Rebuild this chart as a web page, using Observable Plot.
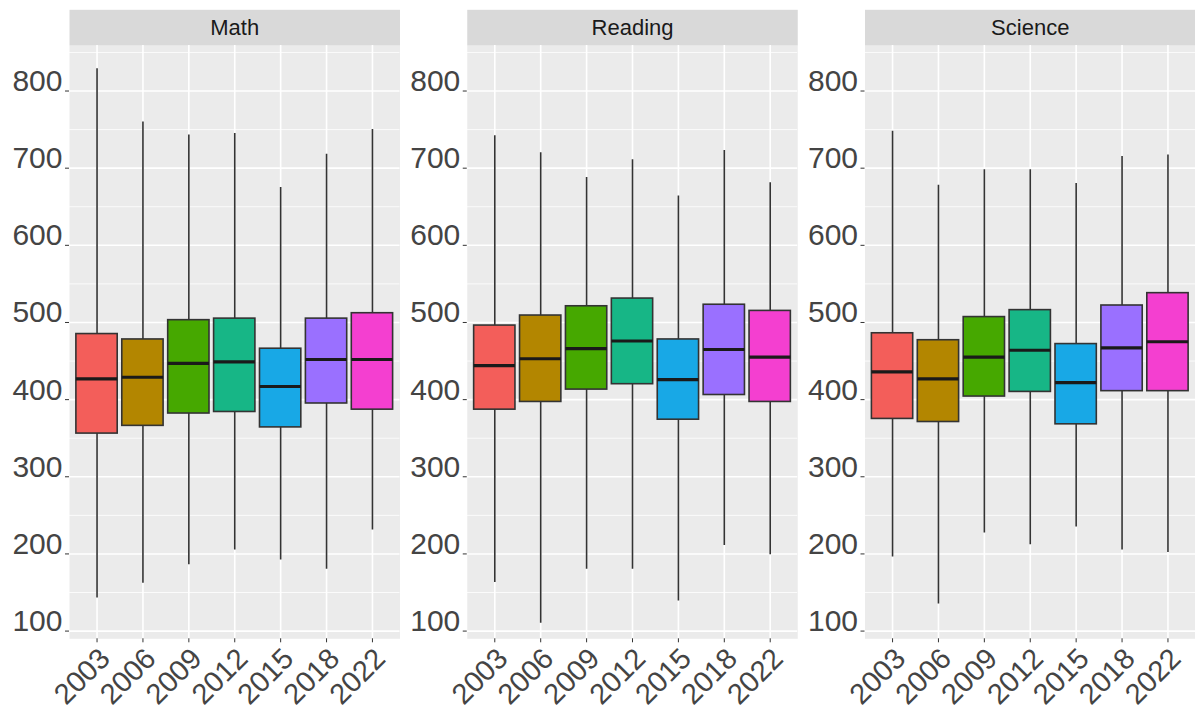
<!DOCTYPE html>
<html>
<head>
<meta charset="utf-8">
<script src="https://cdn.jsdelivr.net/npm/d3@7"></script>
<script src="https://cdn.jsdelivr.net/npm/@observablehq/plot@0.6"></script>
<style>
  html, body { margin: 0; padding: 0; background: #ffffff; }
  #chart svg { display: block; overflow: visible; }
</style>
</head>
<body>
<div id="chart"></div>
<script>
// ---- data ----
const subjects = ["Math", "Reading", "Science"];
const years = ["2003", "2006", "2009", "2012", "2015", "2018", "2022"];
const yearColors = ["#F35E5A", "#B38600", "#46A800", "#17B686", "#18A8E6", "#9A70FF", "#F43FD0"];

const mathLow    = [143, 162, 186, 205, 192, 180, 231];
const mathQ1     = [356, 366, 382, 384, 364, 395, 387];
const mathMedian = [427, 429, 447, 449, 417, 452, 452];
const mathQ3     = [485, 478, 503, 505, 466, 505, 512];
const mathHigh   = [829, 760, 743, 745, 675, 718, 750];

const readingLow    = [163, 110, 180, 180, 139, 211, 199];
const readingQ1     = [387, 397, 413, 420, 374, 406, 397];
const readingMedian = [444, 453, 466, 476, 426, 465, 455];
const readingQ3     = [496, 509, 521, 531, 478, 523, 515];
const readingHigh   = [742, 720, 688, 711, 664, 723, 681];

const scienceLow    = [196, 135, 227, 212, 235, 205, 202];
const scienceQ1     = [375, 371, 404, 410, 368, 411, 411];
const scienceMedian = [436, 427, 455, 464, 422, 467, 475];
const scienceQ3     = [486, 477, 507, 516, 472, 522, 538];
const scienceHigh   = [748, 678, 698, 698, 680, 715, 717];

const yMajor = [100, 200, 300, 400, 500, 600, 700, 800];
const yMinor = [150, 250, 350, 450, 550, 650, 750, 850];

// ---- build table ----
const series = {
  Math:    [mathLow, mathQ1, mathMedian, mathQ3, mathHigh],
  Reading: [readingLow, readingQ1, readingMedian, readingQ3, readingHigh],
  Science: [scienceLow, scienceQ1, scienceMedian, scienceQ3, scienceHigh]
};
const rows = [];
for (const s of subjects) {
  const [lo, q1, md, q3, hi] = series[s];
  years.forEach((y, i) => rows.push({subject: s, year: y, low: lo[i], q1: q1[i], median: md[i], q3: q3[i], high: hi[i]}));
}

const W = 1195, H = 711;
const mTop = 45, mBottom = 72.7, mLeft = 69, mRight = 0;
const panelH = H - mTop - mBottom;
const stripH = 35.7;

const chart = Plot.plot({
  width: W,
  height: H,
  marginTop: mTop,
  marginBottom: mBottom,
  marginLeft: mLeft,
  marginRight: mRight,
  style: {fontFamily: "'Liberation Sans', Arial, sans-serif", background: "#ffffff"},
  fx: {domain: subjects, paddingInner: 0.1691, paddingOuter: 0, axis: null, round: false},
  x: {domain: years, paddingInner: 0.1, paddingOuter: 0.15, round: false, label: null},
  y: {domain: [90, 859], label: null},
  color: {domain: years, range: yearColors},
  marks: [
    Plot.frame({fill: "#EBEBEB"}),
    Plot.frame({fill: "#D9D9D9", insetTop: -stripH, insetBottom: panelH}),
    Plot.ruleY(yMinor, {y: d => d, stroke: "#ffffff", strokeWidth: 0.8}),
    Plot.ruleY(yMajor, {y: d => d, stroke: "#ffffff", strokeWidth: 1.6}),
    Plot.ruleX(years, {x: d => d, stroke: "#ffffff", strokeWidth: 1.6}),
    Plot.ruleX(rows, {fx: "subject", x: "year", y1: "low", y2: "high", stroke: "#333333", strokeWidth: 1.6}),
    Plot.barY(rows, {fx: "subject", x: "year", y1: "q1", y2: "q3", fill: "year", stroke: "#333333", strokeWidth: 1.6}),
    Plot.tickY(rows, {fx: "subject", x: "year", y: "median", stroke: "#1A1A1A", strokeWidth: 3.2}),
    Plot.axisY({ticks: yMajor, facetAnchor: null, tickSize: 4, tickPadding: 3, fontSize: 30,
                stroke: "#333333", fill: "#444444", lineAnchor: "bottom", label: null}),
    Plot.axisX({tickRotate: -45, tickSize: 4, tickPadding: 3, fontSize: 29,
                stroke: "#333333", fill: "#444444", textAnchor: "end", lineAnchor: "top", label: null}),
    Plot.text(subjects, {fx: d => d, text: d => d, frameAnchor: "top", lineAnchor: "middle", dy: -stripH / 2,
                         fontSize: 22, fill: "#1A1A1A"})
  ]
});
document.getElementById("chart").appendChild(chart);
</script>
</body>
</html>
